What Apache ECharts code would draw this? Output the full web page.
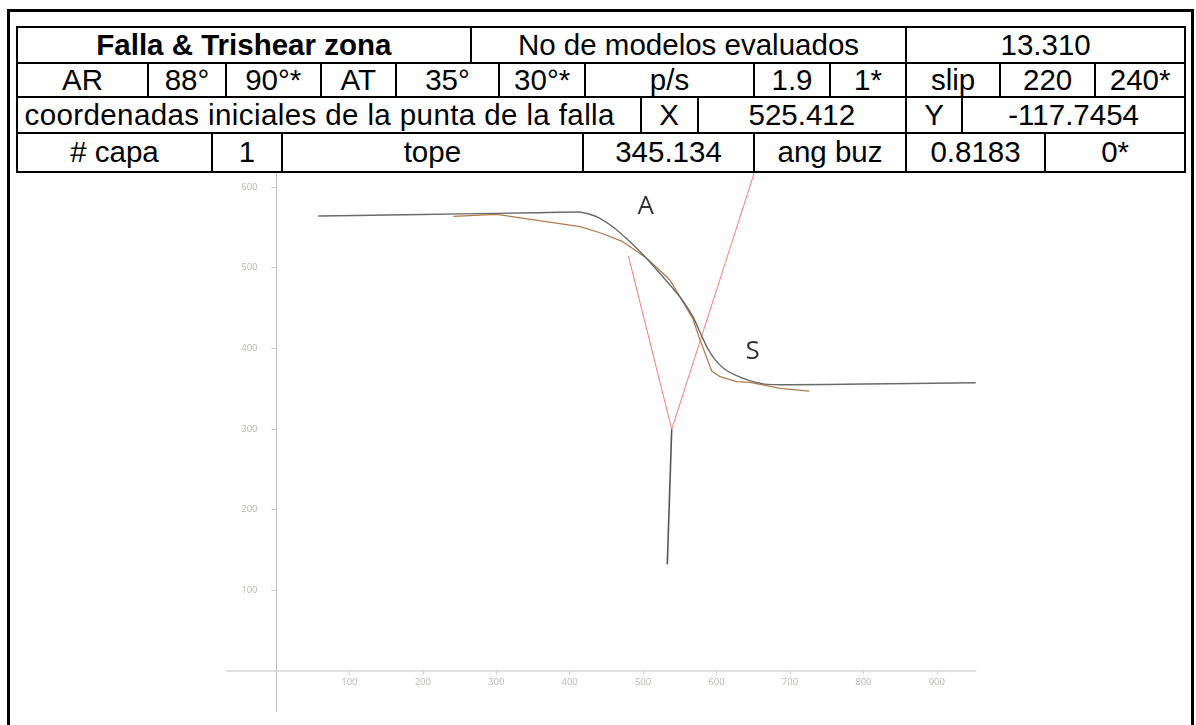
<!DOCTYPE html>
<html>
<head>
<meta charset="utf-8">
<script src="https://cdn.jsdelivr.net/npm/echarts@6/dist/echarts.min.js"></script>
<style>
  html, body { margin: 0; padding: 0; background: #fff; overflow: hidden; }
  #chart { position: absolute; left: 0; top: 0; width: 1196px; height: 725px; }
  #frame { position: absolute; left: 7px; top: 9px; width: 1187px; height: 760px;
           border: 3px solid #000; box-sizing: border-box; pointer-events: none; }
  .cell { position: absolute; box-sizing: border-box; border: 2px solid #000; background: #fff;
          display: flex; align-items: center; justify-content: center;
          font-family: 'Liberation Sans', Arial, sans-serif; font-size: 29.5px; color: #000;
          white-space: nowrap; overflow: hidden; }
  .bold { font-weight: bold; }
  .wide { letter-spacing: 0.4px; padding-right: 18px; }
</style>
</head>
<body>
<div id="chart"></div>
<div id="table"></div>
<div id="frame"></div>
<script>
// ---- parameter table ----
const titleRow = ['Falla & Trishear zona', 'No de modelos evaluados', '13.310'];
const angleRow = ['AR', '88°', '90°*', 'AT', '35°', '30°*', 'p/s', '1.9', '1*', 'slip', '220', '240*'];
const tipRow   = ['coordenadas iniciales de la punta de la falla', 'X', '525.412', 'Y', '-117.7454'];
const layerRow = ['# capa', '1', 'tope', '345.134', 'ang buz', '0.8183', '0*'];

// ---- section profile ----
// modelled horizon (smooth trishear fold)
const modelX = [57.7, 150, 250, 350, 411.8, 425, 440, 460, 480, 500, 520, 540, 555, 568, 578, 588, 598, 610, 625, 645, 670, 700, 800, 953];
const modelY = [564.1, 565.4, 566.8, 568.2, 569.1, 567, 562, 550, 534, 516, 496, 475, 458, 439, 419, 400, 386, 375, 367, 360, 355.3, 354.8, 355.7, 357.3];
// observed horizon
const observedX = [241.6, 300.7, 414.1, 441.4, 470.9, 505.0, 536.7, 567.6, 577.5, 593.5, 604.8, 627.5, 645.6, 686.5, 726.4];
const observedY = [563.8, 566.3, 551.1, 543.4, 533.1, 511.7, 484.7, 437.2, 410.5, 371.8, 364.8, 358.6, 357.8, 350.4, 347.0];
// trishear zone boundaries (back limb, tip, front limb)
const trishearX = [480, 539, 673.4];
const trishearY = [514.5, 299.5, 680];
// fault trace below the tip
const faultX = [539, 533];
const faultY = [299.5, 132];
// annotations
const noteText = ['A', 'S'];
const noteX = [503.6, 649.1];
const noteY = [575.9, 396.4];

const xTicks = [100, 200, 300, 400, 500, 600, 700, 800, 900];
const yTicks = [100, 200, 300, 400, 500, 600];

// ---- build table cells ----
const rowLines = [27.3, 62.7, 97.3, 133.3, 171.7];
const colLines = [
  [16.7, 471, 906, 1185.3],
  [16.7, 148.3, 225.7, 320.7, 395.7, 499.3, 585, 754, 830, 906, 1000.3, 1095, 1185.3],
  [16.7, 640.7, 697.7, 906, 962, 1185.3],
  [16.7, 212.3, 281.7, 583, 754, 906, 1045, 1185.3]
];
const rows = [titleRow, angleRow, tipRow, layerRow];
const table = document.getElementById('table');
rows.forEach((texts, r) => {
  const edges = colLines[r];
  texts.forEach((t, c) => {
    const d = document.createElement('div');
    d.className = 'cell' + (r === 0 && c === 0 ? ' bold' : '') + (r === 2 && c === 0 ? ' wide' : '');
    d.style.left = (edges[c] - 1) + 'px';
    d.style.top = (rowLines[r] - 1) + 'px';
    d.style.width = (edges[c + 1] - edges[c] + 2) + 'px';
    d.style.height = (rowLines[r + 1] - rowLines[r] + 2) + 'px';
    d.textContent = t;
    table.appendChild(d);
  });
});

// ---- chart ----
const pairs = (xs, ys) => xs.map((x, i) => [x, ys[i]]);
const labelStyle = { color: '#bab6b2', fontSize: 9.5, fontFamily: 'Open Sans' };

// grid box: axes cross at (0,0) inside it, labels sit next to the crossing axis lines
const GRID = { left: 226, right: 220.3, top: 154.9, bottom: 14 };

const chart = echarts.init(document.getElementById('chart'), null, { renderer: 'canvas' });
chart.setOption({
  animation: false,
  backgroundColor: '#fff',
  grid: Object.assign({ outerBoundsMode: 'none', containLabel: false }, GRID),
  xAxis: {
    type: 'value', min: -68, max: 953,
    axisLine: { onZero: true, lineStyle: { color: '#d6d6d6', width: 1.5 } },
    axisTick: { show: true, length: 4, customValues: xTicks, lineStyle: { color: '#cfcfcf' } },
    axisLabel: Object.assign({ customValues: xTicks, margin: -34 }, labelStyle),
    splitLine: { show: false }
  },
  yAxis: {
    type: 'value', min: -50, max: 640,
    axisLine: { onZero: true, lineStyle: { color: '#bdbdbd', width: 1 } },
    axisTick: { show: true, length: 5, customValues: yTicks, lineStyle: { color: '#cfcfcf' } },
    axisLabel: Object.assign({ customValues: yTicks, margin: -31.5 }, labelStyle),
    splitLine: { show: false }
  },
  series: [
    {
      name: 'trishear', type: 'line', data: pairs(trishearX, trishearY),
      symbol: 'none', lineStyle: { color: '#ff7878', width: 1 }, z: 2
    },
    {
      name: 'falla', type: 'line', data: pairs(faultX, faultY),
      symbol: 'none', lineStyle: { color: '#555', width: 1.6 }, z: 3
    },
    {
      name: 'observado', type: 'line', data: pairs(observedX, observedY),
      symbol: 'none', lineStyle: { color: '#b07c4c', width: 1.3 }, z: 3
    },
    {
      name: 'modelo', type: 'line', data: pairs(modelX, modelY), smooth: 0.3,
      symbol: 'none', lineStyle: { color: '#6a6a6a', width: 1.4 }, z: 4
    },
    {
      name: 'notas', type: 'scatter', symbolSize: 1, itemStyle: { color: 'rgba(0,0,0,0)' },
      data: noteText.map((t, i) => ({ name: t, value: [noteX[i], noteY[i]] })),
      label: { show: true, position: 'inside', formatter: p => p.name,
               color: '#000', fontSize: 26, fontFamily: 'Open Sans' },
      z: 5
    }
  ]
});
</script>
</body>
</html>
